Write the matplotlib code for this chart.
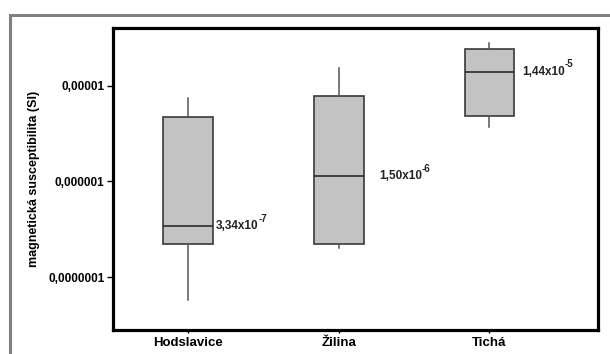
import matplotlib
matplotlib.use("Agg")
import matplotlib.pyplot as plt
from matplotlib.patches import Rectangle

plt.rcParams['font.family'] = ['Liberation Sans', 'DejaVu Sans']

# box statistics (log axis)
sites = ['Hodslavice', 'Žilina', 'Tichá']
whislo = [5.75e-8, 2.02e-7, 3.74e-6]
q1 = [2.24e-7, 2.24e-7, 4.87e-6]
med = [3.40e-7, 1.13e-6, 1.40e-5]
q3 = [4.69e-6, 7.87e-6, 2.39e-5]
whishi = [7.39e-6, 1.52e-5, 2.81e-5]
med_labels = ['3,34x10', '1,50x10', '1,44x10']
med_exp = ['-7', '-6', '-5']

yticks = [1e-7, 1e-6, 1e-5]
ytick_labels = ['0,0000001', '0,000001', '0,00001']

fig = plt.figure(figsize=(6.1, 3.54), dpi=100)
# grey outer frame, cut off at right and bottom
fig.patches.append(Rectangle((10 / 610, -0.1), 1.2, 1 - 15 / 354 + 0.1,
                             transform=fig.transFigure, fill=False,
                             edgecolor='#808080', linewidth=2.2))
ax = fig.add_axes([0.1852, 0.0678, 0.795, 0.853])

stats = []
for i in range(len(sites)):
    stats.append(dict(whislo=whislo[i], q1=q1[i], med=med[i], q3=q3[i],
                      whishi=whishi[i], fliers=[], label=sites[i]))
ax.bxp(stats, positions=[1, 2, 3], widths=0.33, patch_artist=True,
       showcaps=False,
       boxprops=dict(facecolor='#c3c3c3', edgecolor='#3a3a3a', linewidth=1.2),
       medianprops=dict(color='#2a2a2a', linewidth=1.2),
       whiskerprops=dict(color='#555555', linewidth=1.1))

ax.set_yscale('log')
ax.set_ylim(2.8e-8, 4.0e-5)
ax.set_xlim(0.5, 3.72)
ax.set_yticks(yticks)
ax.set_yticklabels(ytick_labels)
ax.minorticks_off()
ax.tick_params(axis='y', length=4, width=1, labelsize=8.5, pad=2)
ax.tick_params(axis='x', length=2, width=1, labelsize=9.5, pad=3)
for lab in ax.get_xticklabels() + ax.get_yticklabels():
    lab.set_fontweight('bold')
ax.set_ylabel('magnetická susceptibilita (SI)', fontsize=9, fontweight='bold', labelpad=6)
for s in ax.spines.values():
    s.set_linewidth(2.3)

offsets = [0.02, 0.1, 0.05]
for i in range(len(sites)):
    t = ax.text(i + 1 + 0.165 + offsets[i], med[i], med_labels[i],
                ha='left', va='center', fontsize=8.5, fontweight='bold', color='#222222')
    ax.annotate(med_exp[i], xy=(1, 1.1), xycoords=t, ha='left', va='center',
                fontsize=7, fontweight='bold', color='#222222')

fig.savefig('out.png', dpi=100)
